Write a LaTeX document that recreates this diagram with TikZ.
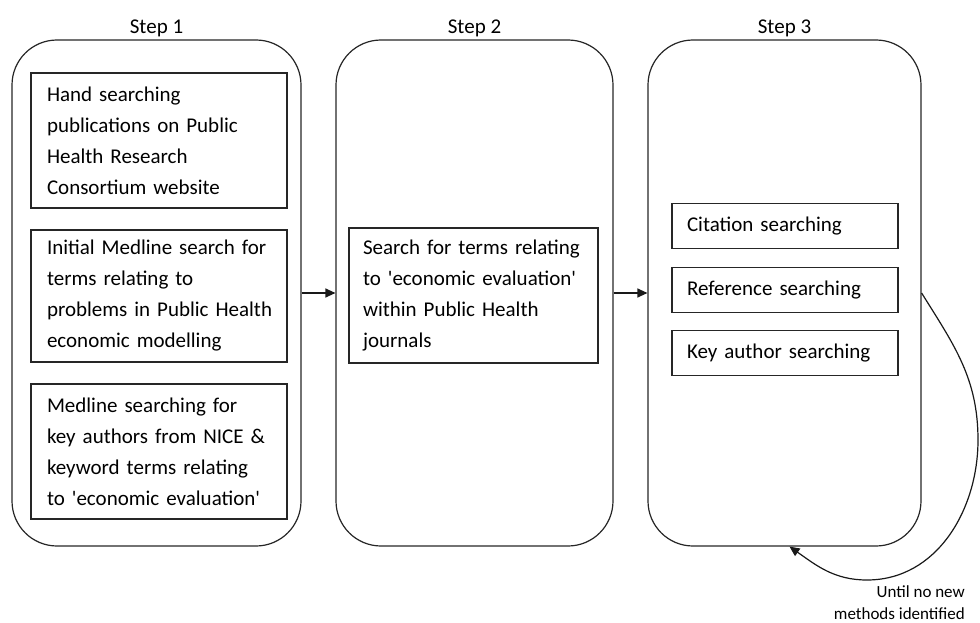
\documentclass[tikz,border=0pt]{standalone}
\usepackage{fontspec}
\setmainfont{Carlito}
\usepackage{tikz}
\usetikzlibrary{arrows.meta,positioning}
\tikzstyle{stepbox} = [draw=black!85, rounded corners=45pt, line width=1.2pt, inner sep=0pt]
\tikzstyle{taskbox} = [draw=black!85, line width=1.2pt, align=left, inner ysep=0pt,
font=\fontsize{21}{31}\selectfont]
\tikzstyle{steplabel} = [font=\fontsize{21}{25}\selectfont, inner sep=0pt]
\tikzstyle{flow} = [-{Triangle[length=10pt,width=9pt]}, line width=1.2pt, draw=black!90]

\begin{document}
\begin{tikzpicture}[x=1pt, y=-1pt]
                    \useasboundingbox (0,0) rectangle (980,623);
                    \node[stepbox, minimum width=289pt, minimum height=506pt] (step1) at (156.5,293) {};
                    \node[stepbox, minimum width=277pt, minimum height=506pt] (step2) at (474.5,293) {};
                    \node[stepbox, minimum width=273pt, minimum height=506pt] (step3) at (784.5,293) {};
                    \node[steplabel, above=2pt of step1] (lab1) {Step 1};
                    \node[steplabel, above=2pt of step2] (lab2) {Step 2};
                    \node[steplabel, above=2pt of step3] (lab3) {Step 3};
                    \node[taskbox, text width=224pt, inner xsep=16pt, minimum height=135pt] (hand) at (159,140.5)
                        {Hand searching\\publications on Public\\Health Research\\Consortium website};
                    \node[taskbox, text width=224pt, inner xsep=16pt, minimum height=132pt] (medline) at (159,296)
                        {Initial Medline search for\\terms relating to\\\mbox{problems in Public Health}\\economic modelling};
                    \node[taskbox, text width=224pt, inner xsep=16pt, minimum height=135pt] (nice) at (159,451.5)
                        {Medline searching for\\key authors from NICE \&\\keyword terms relating\\to \textquotesingle economic evaluation\textquotesingle};
                    \node[taskbox, text width=221pt, inner xsep=14pt, minimum height=135pt] (journals) at (473.5,295.5)
                        {Search for terms relating\\to \textquotesingle economic evaluation\textquotesingle\\within Public Health\\journals};
                    \node[taskbox, text width=196pt, inner xsep=15pt, minimum height=45pt] (cite) at (785,226) {Citation searching};
                    \node[taskbox, text width=196pt, inner xsep=15pt, minimum height=45pt] (ref) at (785,290) {Reference searching};
                    \node[taskbox, text width=196pt, inner xsep=15pt, minimum height=45pt] (key) at (785,353) {Key author searching};
                    \node[align=right, inner sep=0pt, font=\fontsize{17}{22}\selectfont, anchor=east] (until) at (965,603)
                        {Until no new\\methods identified};
                    \draw[flow] (step1)--(step2);
                    \draw[flow] (step2)--(step3);
                    \draw[flow] (step3.east) to[out=-58, in=90] (978,440) to[out=-90, in=0] (867,580)
                        to[out=180, in=-35] ([xshift=5pt]step3.south);
                \end{tikzpicture}
\end{document}
